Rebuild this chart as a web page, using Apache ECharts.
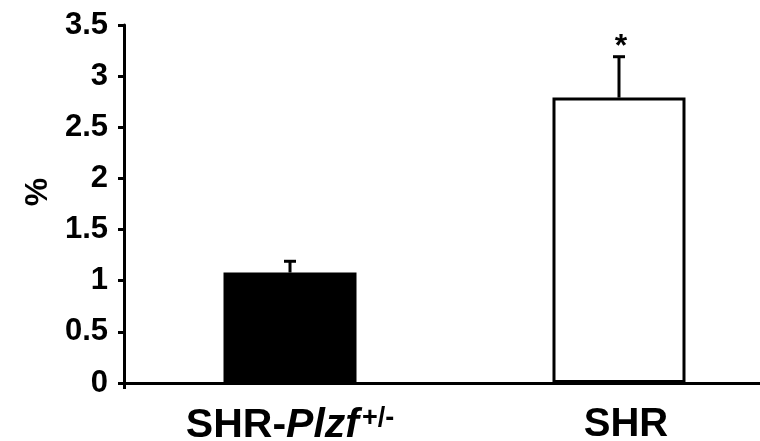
<!DOCTYPE html>
<html>
<head>
<meta charset="utf-8">
<script src="https://cdn.jsdelivr.net/npm/echarts@6/dist/echarts.min.js"></script>
<style>
html,body{margin:0;padding:0;background:#fff;}
#chart{width:760px;height:441px;}
</style>
</head>
<body>
<div id="chart"></div>
<script>
var categories = ['SHR-Plzf+/-', 'SHR'];
var means = [1.08, 2.79];
var errors = [0.11, 0.40];
var significance = ['', '*'];
var yTicks = [0, 0.5, 1, 1.5, 2, 2.5, 3, 3.5];

var FONT = '"Liberation Sans", Arial, sans-serif';
var chart = echarts.init(document.getElementById('chart'), null, {renderer: 'canvas'});

var positions = categories.map(function (c, i) { return i; });

var option = {
  animation: false,
  backgroundColor: '#fff',
  grid: {left: 124, right: 0, top: 25, bottom: 58, containLabel: false, outerBoundsMode: 'none'},
  xAxis: {
    type: 'value',
    min: -0.5046,
    max: 1.4286,
    splitLine: {show: false},
    axisLine: {show: true, onZero: false, lineStyle: {color: '#000', width: 3}},
    axisTick: {show: true, length: 6, lineStyle: {color: '#000', width: 3}, customValues: [-0.5046]},
    axisLabel: {
      margin: 22,
      customValues: positions,
      formatter: function (v) {
        var c = categories[Math.round(v)];
        if (c === 'SHR-Plzf+/-') return '{n|SHR-}{i|Plzf}{s|+/-}';
        return '{m|' + c + '}';
      },
      rich: {
        n: {fontFamily: FONT, fontWeight: 'bold', fontSize: 41, color: '#000'},
        m: {fontFamily: FONT, fontWeight: 'bold', fontSize: 40, color: '#000', padding: [0, 0, 0, 14]},
        i: {fontFamily: FONT, fontWeight: 'bold', fontStyle: 'italic', fontSize: 41, color: '#000'},
        s: {fontFamily: FONT, fontWeight: 'bold', fontSize: 27, color: '#000', verticalAlign: 'top', padding: [0, 0, 14, 3]}
      }
    }
  },
  yAxis: {
    type: 'value',
    min: 0, max: 3.5, interval: 0.5,
    name: '%',
    nameLocation: 'middle',
    nameGap: 68,
    nameRotate: 90,
    nameTextStyle: {fontFamily: FONT, fontWeight: 'bold', fontSize: 32, color: '#000', padding: [0, 0, 0, 24]},
    splitLine: {show: false},
    axisLine: {show: true, onZero: false, lineStyle: {color: '#000', width: 3}},
    axisTick: {show: true, inside: false, length: 6, lineStyle: {color: '#000', width: 3}},
    axisLabel: {
      margin: 16,
      fontFamily: FONT, fontWeight: 'bold', fontSize: 31, color: '#000',
      formatter: function (v) { return String(v); }
    }
  },
  series: [
    {
      type: 'bar',
      barWidth: 133,
      data: means.map(function (v, i) {
        return {
          value: [positions[i], v],
          itemStyle: i === 0
            ? {color: '#000', borderColor: '#000', borderWidth: 2}
            : {color: '#fff', borderColor: '#000', borderWidth: 3}
        };
      }),
      z: 2
    },
    {
      type: 'custom',
      z: 3,
      data: means.map(function (v, i) { return [positions[i], v, errors[i]]; }),
      renderItem: function (params, api) {
        var x = api.value(0);
        var m = api.value(1);
        var e = api.value(2);
        var sig = significance[params.dataIndex];
        var p0 = api.coord([x, m]);
        var p1 = api.coord([x, m + e]);
        var half = 6;
        var children = [
          {type: 'line', shape: {x1: p0[0], y1: p0[1], x2: p1[0], y2: p1[1]}, style: {stroke: '#000', lineWidth: 3}},
          {type: 'line', shape: {x1: p1[0] - half, y1: p1[1], x2: p1[0] + half, y2: p1[1]}, style: {stroke: '#000', lineWidth: 3}}
        ];
        if (sig) {
          children.push({
            type: 'text',
            style: {text: sig, x: p1[0] + 2, y: p1[1] + 6, align: 'center', verticalAlign: 'bottom',
              font: 'bold 32px "Liberation Sans", Arial, sans-serif', fill: '#000'}
          });
        }
        return {type: 'group', children: children};
      }
    }
  ]
};
chart.setOption(option);
</script>
</body>
</html>
